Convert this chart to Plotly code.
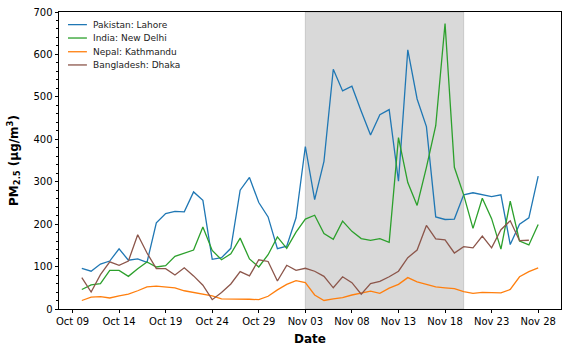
import plotly.graph_objects as go
import pandas as pd

start_date = "2017-10-10"
end_date = "2017-11-28"
dates = pd.date_range(start_date, end_date, freq="D")

lahore = [96, 89, 106, 113, 142, 115, 118, 110, 203, 225, 230, 229, 276, 256, 117, 121, 143,
          280, 310, 251, 217, 142, 148, 215, 383, 258, 348, 565, 514, 525, 466, 410, 458, 470,
          301, 611, 495, 430, 217, 211, 212, 269, 274, 270, 265, 269, 152, 200, 215, 313]
delhi = [46, 57, 60, 91, 91, 77, 95, 111, 99, 102, 124, 132, 139, 193, 138, 116, 130, 167, 118,
         99, 128, 170, 143, 181, 212, 221, 178, 164, 207, 183, 166, 162, 166, 157, 404, 298, 244,
         334, 432, 673, 334, 269, 190, 261, 213, 141, 254, 160, 151, 199]
kathmandu = [20, 28, 29, 26, 31, 35, 43, 52, 54, 52, 50, 43, 39, 35, 31, 24, 24, 24, 23, 22, 30,
             45, 58, 67, 62, 33, 20, 24, 27, 33, 38, 42, 37, 49, 58, 74, 64, 58, 52, 50, 48, 41,
             37, 39, 39, 38, 46, 76, 88, 97]
dhaka = [74, 40, 81, 111, 103, 113, 175, 132, 95, 95, 80, 97, 78, 56, 22, 39, 59, 88, 78, 116,
         112, 66, 103, 91, 96, 89, 77, 50, 76, 62, 35, 60, 65, 76, 89, 121, 139, 197, 165, 163,
         132, 147, 144, 172, 144, 187, 208, 161, 162, None]

series_names = ["Pakistan: Lahore", "India: New Delhi", "Nepal: Kathmandu", "Bangladesh: Dhaka"]
series_values = [lahore, delhi, kathmandu, dhaka]
colors = ["#1f77b4", "#2ca02c", "#ff7f0e", "#8c564b"]

shade_start = "2017-11-03"
shade_end = "2017-11-20"
x_range = ["2017-10-07 13:12", "2017-11-30 10:48"]
tick_start = "2017-10-09"

FONT = "DejaVu Sans"

fig = go.Figure()
for name, vals, col in zip(series_names, series_values, colors):
    fig.add_trace(go.Scatter(x=dates, y=vals, mode="lines", name=name,
                             line=dict(color=col, width=1.3), showlegend=False))

fig.add_shape(type="rect", xref="x", yref="paper", x0=shade_start, x1=shade_end, y0=0, y1=1,
              fillcolor="rgba(128,128,128,0.3)", line=dict(color="rgba(128,128,128,0.3)", width=1),
              layer="below")

# manual compact legend (matplotlib-style)
leg_y = [0.9575, 0.9124, 0.8662, 0.8217]
for name, col, yy in zip(series_names, colors, leg_y):
    fig.add_shape(type="line", xref="paper", yref="paper", x0=0.0179, x1=0.0556, y0=yy, y1=yy,
                  line=dict(color=col, width=1.3))
    fig.add_annotation(xref="paper", yref="paper", x=0.064, y=yy, text=name, showarrow=False,
                       xanchor="left", yanchor="middle",
                       font=dict(family=FONT, size=9, color="#222"))

fig.update_layout(
    width=568, height=352,
    margin=dict(l=59, r=6, t=10, b=43),
    paper_bgcolor="white", plot_bgcolor="white",
    font=dict(family=FONT, size=10, color="black"),
)
fig.update_xaxes(
    range=x_range, type="date",
    tick0=tick_start, dtick=5 * 86400000, tickformat="%b %d",
    ticks="outside", ticklen=3.5, tickwidth=0.8, tickcolor="black",
    showline=True, linecolor="black", linewidth=0.8, mirror=True,
    showgrid=False, zeroline=False,
    tickfont=dict(family=FONT, size=10, color="black"),
    title=dict(text="<b>Date</b>", font=dict(family=FONT, size=12, color="black"), standoff=8),
)
fig.update_yaxes(
    range=[0, 700], tick0=0, dtick=100,
    ticks="outside", ticklen=3.5, tickwidth=0.8, tickcolor="black",
    minor=dict(dtick=20, ticks="outside", ticklen=2, tickwidth=0.6, tickcolor="black", showgrid=False),
    showline=True, linecolor="black", linewidth=0.8, mirror=True,
    showgrid=False, zeroline=False,
    tickfont=dict(family=FONT, size=10, color="black"),
    title=dict(text="<b>PM<sub>2.5</sub> (μg/m<sup>3</sup>)</b>",
               font=dict(family=FONT, size=12, color="black"), standoff=12),
)

fig.write_html("out.html")
